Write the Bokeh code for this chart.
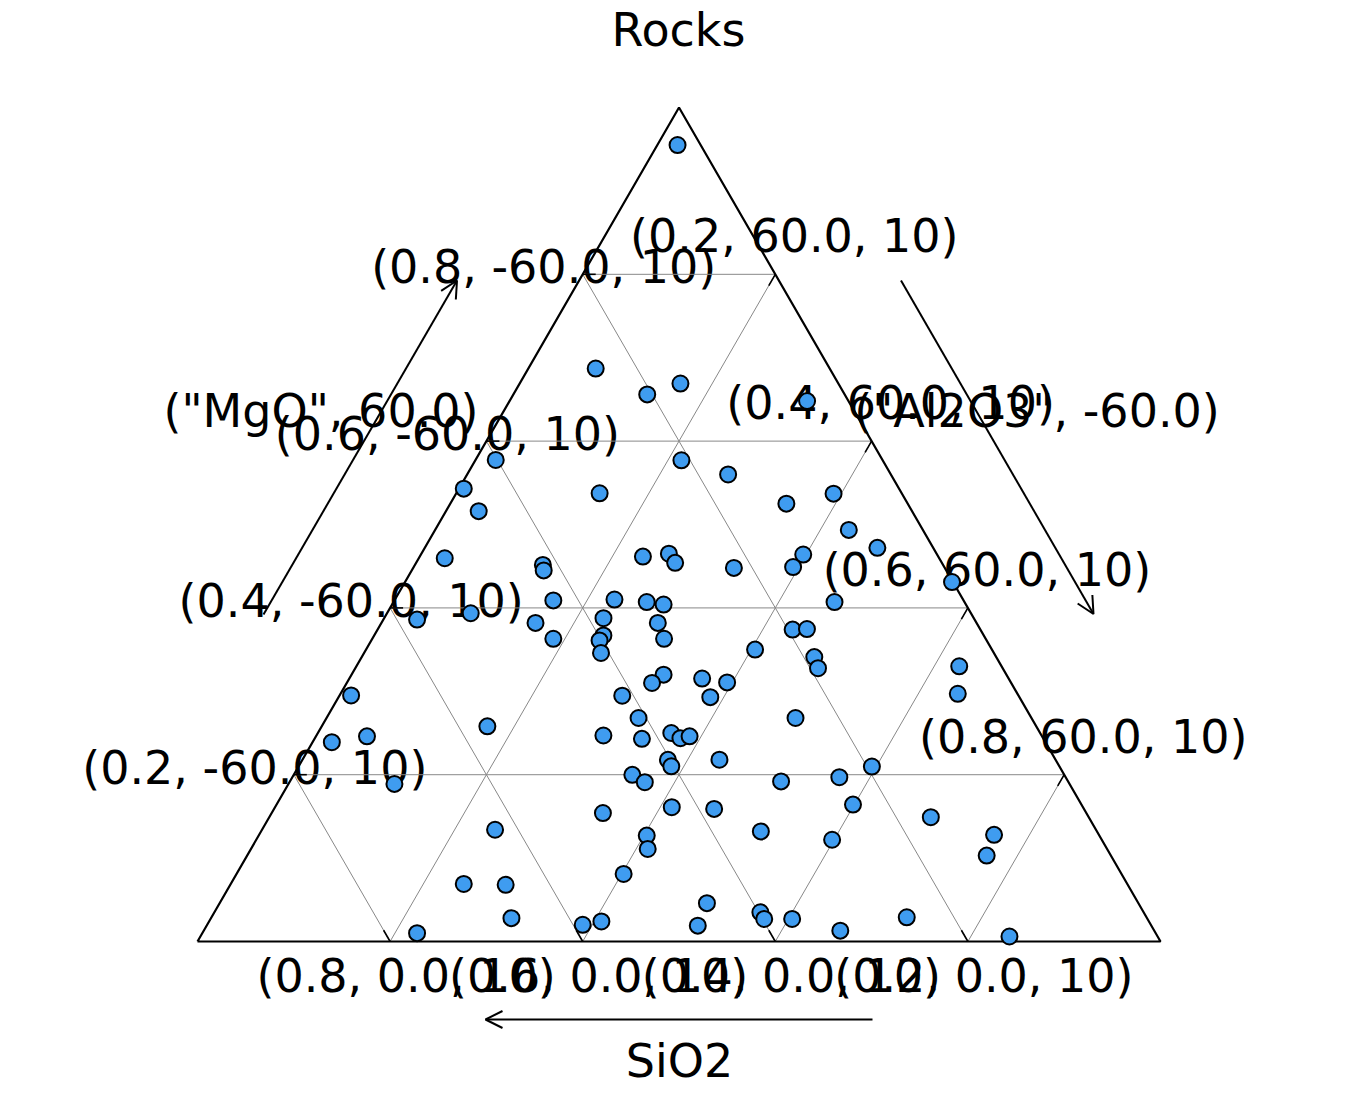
import numpy as np
from bokeh.plotting import figure
from bokeh.models import Range1d, Arrow, OpenHead, ColumnDataSource
from bokeh.core.properties import value
from bokeh.embed import file_html
from bokeh.resources import INLINE

# ---------------- data ----------------
title = "Rocks"
bottom_title = "SiO2"
left_title = '("MgO", 60.0)'
right_title = '("Al2O3", -60.0)'

ticks = [0.2, 0.4, 0.6, 0.8]
bottom_labels = ["(0.2, 0.0, 10)", "(0.4, 0.0, 10)", "(0.6, 0.0, 10)", "(0.8, 0.0, 10)"]
left_labels = ["(0.2, -60.0, 10)", "(0.4, -60.0, 10)", "(0.6, -60.0, 10)", "(0.8, -60.0, 10)"]
right_labels = ["(0.2, 60.0, 10)", "(0.4, 60.0, 10)", "(0.6, 60.0, 10)", "(0.8, 60.0, 10)"]

sio2 = [0.024, 0.243, 0.205, 0.164, 0.043, 0.402, 0.209, 0.169, 0.452, 0.314,
        0.126, 0.071, 0.450, 0.077, 0.058, 0.514, 0.416, 0.418, 0.307, 0.278,
        0.277, 0.219, 0.139, 0.157, 0.001, 0.426, 0.362, 0.330, 0.314, 0.135,
        0.579, 0.520, 0.458, 0.385, 0.331, 0.449, 0.395, 0.402, 0.334, 0.408,
        0.195, 0.180, 0.246, 0.189, 0.192, 0.044, 0.062, 0.693, 0.412, 0.356,
        0.373, 0.318, 0.295, 0.321, 0.408, 0.245, 0.570, 0.741, 0.701, 0.455,
        0.417, 0.383, 0.377, 0.366, 0.349, 0.403, 0.403, 0.449, 0.440, 0.298,
        0.235, 0.195, 0.701, 0.237, 0.427, 0.384, 0.502, 0.164, 0.624, 0.470,
        0.477, 0.349, 0.280, 0.109, 0.129, 0.517, 0.689, 0.646, 0.660, 0.767,
        0.590, 0.568, 0.471, 0.448, 0.398, 0.398, 0.369, 0.326, 0.249, 0.154]
mgo = [0.955, 0.687, 0.656, 0.669, 0.648, 0.578, 0.577, 0.560, 0.543, 0.538,
       0.525, 0.537, 0.516, 0.494, 0.472, 0.460, 0.452, 0.445, 0.462, 0.465,
       0.454, 0.448, 0.464, 0.449, 0.431, 0.409, 0.410, 0.407, 0.404, 0.407,
       0.386, 0.394, 0.382, 0.388, 0.382, 0.363, 0.367, 0.361, 0.363, 0.346,
       0.374, 0.375, 0.350, 0.341, 0.328, 0.330, 0.297, 0.295, 0.295, 0.320,
       0.310, 0.315, 0.311, 0.293, 0.268, 0.268, 0.258, 0.239, 0.246, 0.247,
       0.243, 0.250, 0.244, 0.246, 0.218, 0.218, 0.210, 0.200, 0.191, 0.192,
       0.197, 0.210, 0.189, 0.164, 0.161, 0.159, 0.154, 0.149, 0.134, 0.127,
       0.111, 0.132, 0.122, 0.128, 0.103, 0.081, 0.069, 0.068, 0.028, 0.010,
       0.020, 0.024, 0.019, 0.046, 0.035, 0.027, 0.027, 0.013, 0.029, 0.006]
al2o3 = [0.021, 0.070, 0.139, 0.167, 0.309, 0.021, 0.214, 0.271, 0.005, 0.149,
         0.349, 0.392, 0.034, 0.430, 0.470, 0.027, 0.133, 0.137, 0.232, 0.257,
         0.269, 0.333, 0.397, 0.394, 0.568, 0.165, 0.228, 0.263, 0.282, 0.458,
         0.035, 0.087, 0.160, 0.228, 0.287, 0.188, 0.238, 0.237, 0.303, 0.246,
         0.431, 0.446, 0.404, 0.470, 0.481, 0.626, 0.641, 0.012, 0.294, 0.324,
         0.317, 0.366, 0.395, 0.386, 0.324, 0.487, 0.172, 0.020, 0.053, 0.298,
         0.340, 0.367, 0.380, 0.388, 0.433, 0.380, 0.387, 0.352, 0.369, 0.510,
         0.568, 0.596, 0.110, 0.598, 0.412, 0.457, 0.344, 0.687, 0.242, 0.403,
         0.412, 0.519, 0.598, 0.764, 0.768, 0.402, 0.242, 0.286, 0.312, 0.223,
         0.390, 0.407, 0.510, 0.506, 0.567, 0.575, 0.604, 0.661, 0.722, 0.841]

# ---------------- geometry ----------------
H = np.sqrt(3) / 2
PX = 963.0  # pixels per unit of triangle side
X0, Y0 = 197.0, 941.0  # screen position of the bottom-left vertex
W, HT = 1336, 1098

def proj(l, t, r):
    l, t, r = np.asarray(l, float), np.asarray(t, float), np.asarray(r, float)
    s = l + t + r
    return (r + 0.5 * t) / s, H * t / s

FONT = value("DejaVu Sans")
FS = value("46px")

p = figure(width=W, height=HT,
           x_range=Range1d(-X0 / PX, (W - X0) / PX),
           y_range=Range1d((Y0 - HT) / PX, Y0 / PX),
           output_backend="svg", toolbar_location=None,
           x_axis_location=None, y_axis_location=None,
           min_border=0, outline_line_color=None)
p.grid.visible = False
p.background_fill_color = "white"
p.border_fill_color = "white"

def off(dx, dy):
    return dx / PX, -dy / PX

def pt(a, b):
    return (a - X0) / PX, (Y0 - b) / PX

tv = np.array(ticks)

# tick labels (drawn first, under everything)
bx, by = 1 - tv, np.zeros_like(tv)
ox, oy = off(16, 34)
p.text(x=bx + ox, y=by + oy, text=bottom_labels, text_align="center",
       text_baseline="middle", text_font=FONT, text_font_size=FS, text_color="black")
lx, ly = 0.5 * tv, H * tv
ox, oy = off(-39, -7)
p.text(x=lx + ox, y=ly + oy, text=left_labels, text_align="center",
       text_baseline="middle", text_font=FONT, text_font_size=FS, text_color="black")
rx, ry = 0.5 + 0.5 * tv, H * (1 - tv)
ox, oy = off(19, -38)
p.text(x=rx + ox, y=ry + oy, text=right_labels, text_align="center",
       text_baseline="middle", text_font=FONT, text_font_size=FS, text_color="black")

# axis titles
titles = [title, bottom_title, left_title, right_title]
tpx = [678, 679, 320.5, 1036.5]
tpy = [29, 1060, 410, 410]
tx, ty = pt(np.array(tpx), np.array(tpy))
p.text(x=tx, y=ty, text=titles,
       text_align="center", text_baseline="middle", text_font=FONT,
       text_font_size=FS, text_color="black")

# grid lines
gx, gy = [], []
for v in ticks:
    gx.append([0.5 * v, 1 - 0.5 * v]); gy.append([H * v, H * v])               # MgO const
    gx.append([1 - v, 0.5 * (1 - v)]); gy.append([0, H * (1 - v)])            # SiO2 const
    gx.append([v, v + 0.5 * (1 - v)]); gy.append([0, H * (1 - v)])            # Al2O3 const
p.multi_line(xs=gx, ys=gy, line_color="#888888", line_width=1)

# ticks
tl = 13 / PX
kx, ky = [], []
for v in ticks:
    kx.append([1 - v, 1 - v - 0.5 * tl]); ky.append([0, H * tl])
    kx.append([0.5 * v, 0.5 * v + tl]); ky.append([H * v, H * v])
    x0, y0 = 0.5 + 0.5 * v, H * (1 - v)
    kx.append([x0, x0 - 0.5 * tl]); ky.append([y0, y0 - H * tl])
p.multi_line(xs=kx, ys=ky, line_color="black", line_width=1.6)

# triangle outline
p.line(x=[0, 1, 0.5, 0], y=[0, 0, H, 0], line_color="black", line_width=2.2)

# arrows
for (a0, b0, a1, b1) in [(872, 1019, 485, 1019), (263, 614, 456.5, 280), (900.5, 280, 1093, 613.5)]:
    xs, ys = pt(a0, b0)
    xe, ye = pt(a1, b1)
    p.add_layout(Arrow(end=OpenHead(size=17, line_width=2, line_color="black"),
                       x_start=xs, y_start=ys, x_end=xe, y_end=ye,
                       line_width=2, line_color="black"))

# points
px_, py_ = proj(sio2, mgo, al2o3)
src = ColumnDataSource(dict(x=px_, y=py_))
p.scatter(x="x", y="y", source=src, size=16, fill_color="#3f9cf0",
          line_color="black", line_width=2)

open("out.html", "w").write(file_html(p, INLINE))
